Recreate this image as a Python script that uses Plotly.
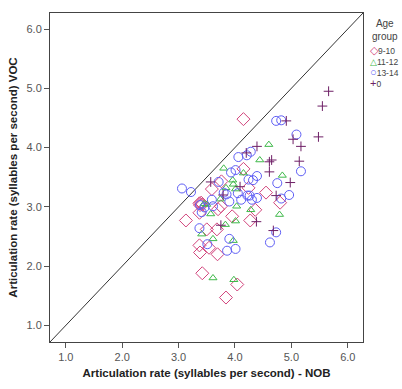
import plotly.graph_objects as go

# ---- data ----
g910_x = [4.15, 4.15, 3.76, 3.59, 4.24, 4.55, 3.37, 3.40, 3.42, 3.38, 3.75, 3.70, 4.36, 4.80,
          3.37, 3.13, 3.95, 4.27, 3.50, 3.68, 3.37, 3.38, 3.54, 3.69, 3.42, 4.04, 3.84]
g910_y = [4.48, 3.64, 3.43, 3.30, 3.32, 3.24, 3.06, 3.07, 3.04, 3.03, 3.01, 2.96, 2.95, 3.07,
          2.90, 2.77, 2.84, 2.77, 2.62, 2.62, 2.35, 2.23, 2.31, 2.20, 1.88, 1.69, 1.47]

g1112_x = [4.60, 4.44, 3.80, 4.84, 4.15, 3.96, 3.97, 3.84, 4.01, 3.74, 3.45, 3.50, 3.57, 4.03,
           4.28, 4.79, 3.83, 4.01, 3.41, 3.61, 3.97, 3.61, 3.98]
g1112_y = [4.05, 3.79, 3.65, 3.53, 3.57, 3.45, 3.38, 3.32, 3.30, 3.13, 3.05, 3.04, 2.88, 3.01,
           2.95, 2.87, 2.70, 2.76, 2.54, 2.46, 2.43, 1.80, 1.77]

g1314_x = [3.06, 3.22, 4.73, 4.82, 5.09, 4.28, 4.21, 4.06, 4.01, 3.93, 5.17, 4.39, 4.32, 4.24,
           4.75, 3.71, 3.80, 3.85, 4.05, 4.22, 4.26, 4.96, 4.82, 4.39, 4.30, 4.11, 3.59, 3.38,
           3.46, 3.61, 3.90, 3.41, 3.37, 4.73, 4.62, 3.51, 3.90, 3.86, 4.01]
g1314_y = [3.31, 3.25, 4.45, 4.46, 4.22, 3.93, 3.87, 3.84, 3.62, 3.58, 3.60, 3.52, 3.45, 3.46,
           3.40, 3.42, 3.24, 3.21, 3.23, 3.19, 3.19, 3.20, 3.14, 3.15, 3.12, 3.12, 3.12, 3.03,
           2.99, 3.01, 3.09, 2.91, 2.64, 2.57, 2.40, 2.37, 2.46, 2.26, 2.29]

g0_x = [5.66, 5.55, 4.91, 5.48, 5.03, 5.17, 4.39, 4.20, 4.65, 4.61, 5.14, 4.61, 4.98, 4.09,
        3.57, 3.79, 4.73, 3.75, 4.38, 4.68]
g0_y = [4.95, 4.70, 4.45, 4.18, 4.14, 4.02, 4.02, 3.91, 3.79, 3.76, 3.77, 3.59, 3.41, 3.34,
        3.42, 3.20, 3.19, 2.69, 2.75, 2.60]

group_names = ["9-10", "11-12", "13-14", "0"]
tick_vals = [1.0, 2.0, 3.0, 4.0, 5.0, 6.0]
tick_text = ["1.0", "2.0", "3.0", "4.0", "5.0", "6.0"]
axis_range = [0.72, 6.27]

# ---- styles ----
FONT = "Liberation Sans, Arial, sans-serif"
C_DIA = "#d2447c"
C_TRI = "#3fb94a"
C_CIR = "#5f5ff5"
C_PLUS = "#6e1f66"

fig = go.Figure()

# identity reference line (y = x) across the axis range
fig.add_trace(go.Scatter(x=axis_range, y=axis_range, mode="lines",
                         line=dict(color="#333333", width=1), showlegend=False,
                         hoverinfo="skip"))

series = [
    (g910_x, g910_y, "diamond-open", 10, C_DIA),
    (g1112_x, g1112_y, "triangle-up-open", 7, C_TRI),
    (g1314_x, g1314_y, "circle-open", 9, C_CIR),
    (g0_x, g0_y, "cross-thin-open", 7, C_PLUS),
]
for (xs, ys, sym, sz, col), name in zip(series, group_names):
    fig.add_trace(go.Scatter(x=xs, y=ys, mode="markers", name=name,
                             marker=dict(symbol=sym, size=sz, color=col,
                                         line=dict(color=col, width=1)),
                             showlegend=False))

axis_common = dict(range=axis_range, tickvals=tick_vals, ticktext=tick_text,
                   showgrid=False, zeroline=False, showline=True, mirror=True,
                   linecolor="#444444", linewidth=1, ticks="outside", ticklen=5,
                   tickcolor="#555555",
                   tickfont=dict(family=FONT, size=11, color="#555555"))

fig.update_xaxes(**axis_common,
                 title=dict(text="<b>Articulation rate (syllables per second) - NOB</b>",
                            font=dict(family=FONT, size=11.5, color="#222222"),
                            standoff=6))
fig.update_yaxes(**axis_common,
                 title=dict(text="<b>Articulation rate (syllables per second) VOC</b>",
                            font=dict(family=FONT, size=11.5, color="#222222"),
                            standoff=6))

# compact legend drawn as annotations
legend_syms = ["\u25C7", "\u25B3", "\u25CB", "+"]
legend_sizes = [11, 9, 11, 11]
legend_cols = [C_DIA, C_TRI, C_CIR, C_PLUS]
lines = [f"<span style='color:{c};font-size:{fs}px'>{s}</span>{n}"
         for s, fs, c, n in zip(legend_syms, legend_sizes, legend_cols, group_names)]
ann = [
    dict(text="Age<br>group", xref="paper", yref="paper", x=1.07, y=0.99,
         xanchor="center", yanchor="top", showarrow=False,
         font=dict(family=FONT, size=10, color="#444444")),
    dict(text="<br>".join(lines), xref="paper", yref="paper", x=1.015, y=0.912,
         xanchor="left", yanchor="top", align="left", showarrow=False,
         font=dict(family=FONT, size=8.5, color="#444444")),
]

fig.update_layout(width=402, height=389,
                  margin=dict(l=50, r=39, t=13, b=40),
                  paper_bgcolor="white", plot_bgcolor="white",
                  annotations=ann, showlegend=False)

fig.write_html("out.html", config={"displayModeBar": False},
               post_script="document.body.style.margin='0';document.body.style.padding='0';")
